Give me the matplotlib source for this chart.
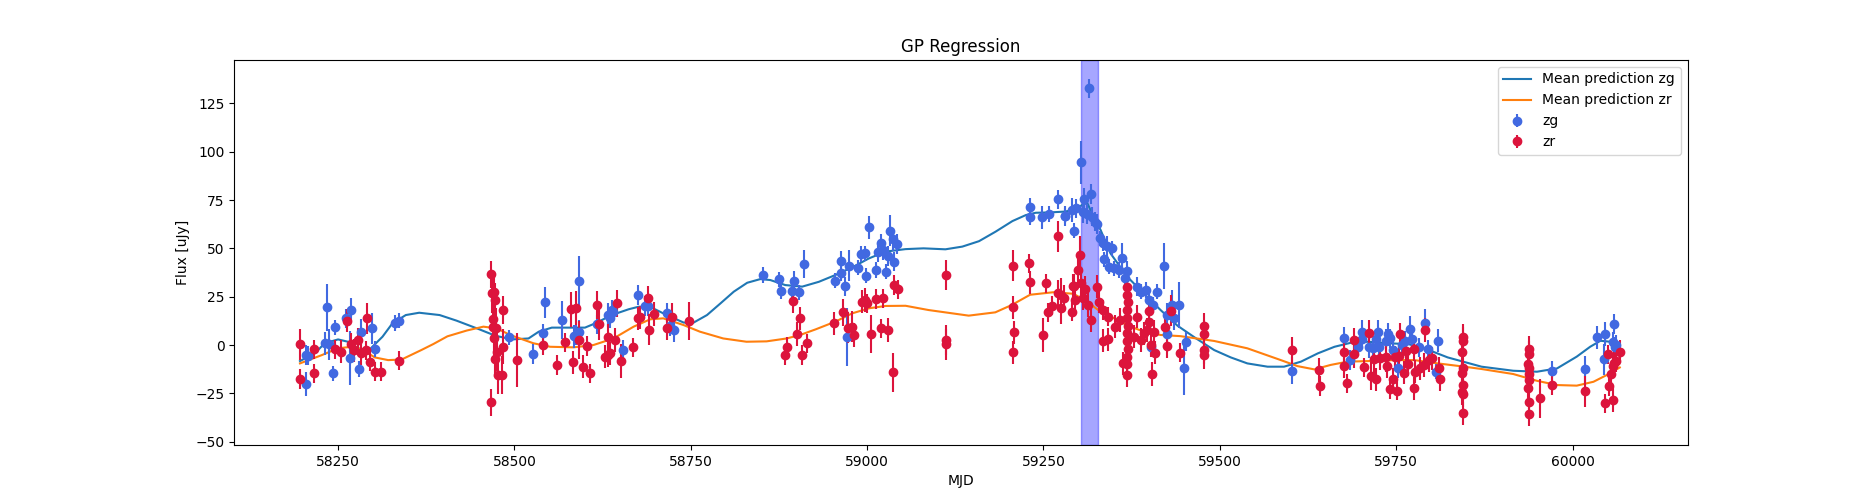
import matplotlib
matplotlib.use("Agg")
import matplotlib.pyplot as plt
import numpy as np

# zg photometry: MJD, flux, error
zg_mjd = [58204, 58207, 58204, 58234, 58232, 58237, 58246, 58243, 58261, 58269, 58267, 58282, 58280,
          58298, 58303, 58331, 58336,
          58493, 58527, 58540, 58544, 58568, 58591, 58584, 58588, 58592, 58617, 58633, 58636, 58640,
          58638, 58654, 58675, 58685, 58690, 58716, 58720, 58726,
          58853, 58874.6, 58878, 58897, 58893.5, 58903, 58911, 58954, 58963, 58963, 58969, 58972, 58974,
          58987, 58992, 58997, 59002, 58999, 59012, 59016, 59019, 59023, 59027, 59030, 59033, 59036,
          59042, 59038,
          59231.6, 59231, 59248.6, 59258, 59271, 59281, 59291, 59292.7, 59295.7, 59280,
          59314.3, 59302.6, 59316.7, 59308, 59306.5, 59312, 59319, 59323, 59325.5, 59330, 59334.8,
          59340.5, 59347.6, 59335.7, 59342.8, 59350, 59357, 59361.7, 59367.9, 59365, 59382, 59387.7,
          59395.8, 59399.6, 59411.4, 59420.8, 59405.7, 59425.6, 59432.7, 59442, 59435, 59425.6, 59402,
          59451.5, 59449,
          59602, 59676, 59685, 59696, 59702, 59701, 59712, 59717, 59721.5, 59724, 59726, 59735.5, 59738,
          59741, 59745, 59752, 59758, 59763, 59769, 59772.5, 59783, 59795, 59791, 59806, 59810,
          59971.6, 60018, 60034, 60046.5, 60045, 60059, 60057, 60060, 60062]
zg_flux = [-5.2, -5.5, -20.2, 19.5, 0.9, 0.5, 9.2, -14.7, 13.8, 18.1, -6.9, 6.7, -12.4,
           8.6, -2.0, 11.5, 12.6,
           4.0, -4.7, 6.0, 22.1, 12.9, 33.1, 4.6, 5.2, 6.9, 10.7, 15.5, 13.8, 17.2,
           18.1, -2.6, 25.9, 20.2, 20.2, 16.7, 9.8, 7.8,
           36.2, 34.0, 27.9, 33.1, 27.9, 27.2, 41.9, 33.3, 43.4, 37.1, 30.3, 4.3, 41.0,
           40.0, 47.0, 47.4, 60.9, 35.9, 38.8, 47.9, 52.6, 49.1, 37.9, 46.0, 59.1, 54.7,
           52.2, 43.1,
           71.2, 66.0, 66.0, 67.8, 75.3, 66.7, 69.8, 59.1, 70.7, 66.9,
           132.8, 94.5, 78.1, 75.3, 69.0, 67.8, 66.4, 63.8, 62.6, 55.2, 52.6,
           51.2, 50.0, 44.3, 40.5, 39.6, 38.8, 44.8, 38.3, 34.5, 30.2, 27.6,
           28.5, 23.3, 27.6, 40.9, 20.7, 15.5, 20.7, 20.7, 13.8, 5.5, -0.9,
           1.7, -12.1,
           -13.4, 3.4, -7.8, -0.9, 6.9, 2.9, -0.9, -1.7, 2.9, 6.9, -0.9, 2.1, 5.5,
           3.4, -2.6, -12.1, 0.0, 2.2, 8.1, 2.9, -1.2, -2.2, 11.5, -13.8, 2.2,
           -13.3, -12.6, 4.0, 5.7, -7.4, 10.9, 1.7, -0.9, 0.0]
zg_err = [5, 5, 6, 12, 6, 8, 4, 4, 5, 6, 14, 7, 4,
          8, 4, 4, 4,
          4, 5, 5, 8, 10, 13, 6, 5, 6, 5, 6, 5, 5,
          5, 5, 5, 5, 5, 5, 5, 6,
          4, 4, 4, 5, 4, 4, 7, 4, 5, 4, 5, 15, 8,
          4, 4, 4, 6, 4, 4, 5, 5, 5, 4, 5, 8, 6,
          5, 5,
          5, 4, 6, 4, 5, 5, 6, 4, 5, 4,
          5, 11, 5, 6, 6, 5, 5, 5, 5, 4, 4,
          5, 4, 4, 4, 4, 4, 8, 5, 4, 5, 4,
          4, 4, 4, 12, 4, 6, 8, 12, 6, 6, 4,
          5, 14,
          7, 6, 5, 5, 6, 5, 6, 5, 5, 6, 6, 6, 6,
          5, 5, 5, 6, 5, 7, 5, 5, 5, 7, 4, 6,
          5, 7, 6, 6, 8, 5, 5, 5, 5]

# zr photometry: MJD, flux, error
zr_mjd = [58196, 58196, 58216, 58216, 58245.5, 58254, 58262, 58269, 58272, 58278, 58282, 58289, 58291,
          58294.7, 58303, 58311, 58336,
          58467, 58468, 58471, 58472, 58469, 58470, 58471, 58474, 58484, 58484, 58476, 58472, 58477,
          58482, 58467, 58504, 58541, 58560, 58572, 58580, 58587, 58583, 58591, 58597, 58603, 58607,
          58617, 58620, 58628, 58632, 58636, 58633, 58643, 58645, 58651, 58668, 58675, 58678, 58689,
          58691, 58698, 58716, 58723, 58748,
          58883, 58886, 58895.6, 58900, 58905, 58908, 58915, 58953, 58966, 58973, 58979, 58982, 58993,
          58997, 59000, 59006, 59012, 59023, 59019, 59029, 59036, 59038, 59044,
          59112.4, 59112, 59112, 59206.5, 59206.5, 59208, 59206.5, 59229, 59231.6, 59249, 59254, 59256,
          59262, 59271, 59271, 59275, 59279, 59275, 59291, 59293,
          59301.7, 59298.9, 59292, 59302.6, 59309, 59294.7, 59306.5, 59313.6, 59317.5, 59325.5, 59329.3,
          59335, 59342, 59335, 59342, 59351.8, 59358,
          59369, 59369, 59370, 59368, 59369, 59370, 59368, 59369, 59370, 59369, 59368, 59369,
          59363, 59383, 59379, 59388, 59392, 59397, 59399, 59399, 59406, 59402, 59408.8, 59404, 59422,
          59425, 59431, 59444,
          59477.8, 59477.8, 59477.8, 59477.8,
          59603, 59640, 59642, 59676, 59676, 59681, 59689.6, 59690.5, 59703.7, 59712, 59714, 59722, 59719,
          59727, 59735, 59737, 59741, 59750.6, 59745, 59749, 59754, 59755, 59761, 59764.6, 59775, 59767,
          59775, 59777, 59784, 59789.6, 59796.7, 59801.4, 59791, 59810.8, 59812,
          59844.6, 59845, 59844, 59845, 59844, 59845, 59844, 59845, 59844.6,
          59937.7, 59938, 59937, 59938, 59937.7, 59938, 59937, 59938, 59937.7, 59954, 59971.6, 60018,
          60046, 60051, 60052, 60055, 60057, 60059, 60061, 60058, 60067]
zr_flux = [0.3, -17.6, -2.2, -14.7, -2.2, -3.4, 12.6, 0.3, -2.7, 2.6, -4.3, -2.7, 13.8,
           -8.6, -13.8, -13.8, -8.1,
           36.6, 26.7, 27.5, 23.3, 13.3, 9.5, 3.4, 8.9, 18.1, -0.9, -3.4, -7.4, -15.5,
           -15.5, -29.6, -7.8, 0.0, -10.3, 1.4, 18.5, 19.1, -9.0, 2.6, -11.2, -0.5, -14.7,
           20.7, 10.7, -6.0, -5.2, -4.3, 4.0, 2.6, 21.6, -8.3, -1.2, 13.8, 14.3, 24.5,
           7.8, 16.0, 8.6, 14.6, 12.4,
           -5.2, -0.9, 22.8, 5.7, 13.8, -5.2, 0.9, 11.2, 16.9, 9.0, 9.5, 5.2, 22.4,
           23.3, 21.6, 5.7, 23.8, 24.1, 8.6, 7.8, -14.1, 31.0, 28.8,
           36.2, 2.6, 0.5, 40.9, 19.5, 6.6, -3.8, 42.2, 32.4, 5.2, 31.9, 16.9,
           20.3, 56.2, 26.7, 25.9, 24.1, 19.0, 17.2, 30.7,
           46.5, 38.8, 30.5, 31.9, 28.8, 23.3, 24.1, 20.7, 12.9, 30.2, 22.4,
           18.1, 14.7, 2.2, 2.9, 9.5, 12.9,
           30.2, 26.0, 22.0, 18.0, 14.0, 10.0, 6.0, 2.0, -2.0, -6.0, -10.0, -15.5,
           -9.5, 14.7, 4.3, 2.6, 6.0, 7.8, 17.7, 12.1, 6.9, 0.0, -4.0, -15.0, 9.5,
           -0.5, 17.7, -4.0,
           9.8, 5.7, -2.6, -5.2,
           -2.6, -12.9, -21.2, -3.8, -10.9, -19.8, 2.6, -4.7, -11.6, 6.0, -16.0, -17.8, -7.4,
           -6.9, -6.0, -10.9, -22.9, -23.6, -17.8, -6.4, -5.7, 5.5, -14.3, -3.1, -2.2, -9.8,
           -22.4, -13.8, -12.1, -10.3, -7.8, -6.9, 7.8, -12.1, -17.8,
           4.0, 2.2, -3.4, -12.1, -14.7, -20.7, -24.1, -25.3, -35.3,
           -2.1, -4.7, -9.8, -12.1, -15.2, -18.1, -22.4, -29.3, -35.8, -27.6, -20.7, -23.8,
           -30.2, -4.8, -21.2, -15.0, -11.0, -9.3, -8.1, -28.4, -3.4]
zr_err = [8, 5, 5, 5, 5, 6, 6, 6, 6, 6, 6, 5, 8,
          5, 5, 5, 5,
          7, 10, 8, 9, 9, 8, 9, 10, 7, 9, 10, 9, 10,
          10, 7, 14, 5, 5, 5, 9, 9, 6, 10, 6, 5, 5,
          7, 8, 6, 6, 6, 7, 6, 7, 9, 5, 6, 6, 6,
          8, 6, 6, 7, 10,
          5, 5, 6, 6, 6, 5, 5, 6, 7, 8, 8, 6, 6,
          6, 5, 10, 5, 5, 5, 6, 10, 5, 5,
          8, 8, 8, 8, 6, 6, 6, 5, 6, 9, 5, 5,
          5, 8, 7, 9, 7, 8, 5, 6,
          10, 8, 6, 6, 7, 7, 6, 6, 6, 6, 6,
          5, 5, 6, 6, 6, 6,
          8, 8, 8, 8, 8, 8, 8, 8, 8, 8, 8, 6,
          6, 6, 6, 6, 6, 6, 6, 6, 6, 6, 6, 6, 6,
          6, 8, 5,
          7, 7, 7, 7,
          7, 6, 5, 6, 6, 5, 6, 7, 5, 7, 7, 6, 7,
          6, 8, 6, 5, 5, 6, 6, 6, 6, 6, 6, 6, 6,
          6, 6, 6, 6, 6, 6, 6, 6, 6,
          7, 7, 7, 7, 7, 7, 7, 7, 6,
          7, 7, 7, 7, 7, 7, 7, 7, 6, 10, 5, 8,
          5, 5, 5, 6, 6, 6, 6, 6, 6]

# GP mean predictions
pred_mjd_zg = [58196, 58217, 58231, 58250, 58264, 58278, 58294, 58313, 58327, 58346, 58365, 58394,
               58418, 58449, 58473, 58497, 58520, 58534.5, 58553, 58577, 58600, 58614.5, 58638,
               58662, 58676, 58692, 58716, 58740, 58754, 58773, 58792, 58811, 58830, 58848.6,
               58862.8, 58884, 58908, 58931.6, 58955, 58979, 59002.6, 59026, 59054.5, 59080, 59111,
               59135, 59158.6, 59182, 59206, 59225, 59239, 59260, 59280, 59295, 59305, 59312, 59321,
               59331, 59345, 59368.6, 59392, 59416, 59440, 59466, 59492, 59515.5, 59539, 59567.7,
               59591, 59615, 59639, 59662.6, 59686, 59710, 59738, 59766.8, 59790, 59823, 59871,
               59916, 59949.6, 59978, 60006, 60025, 60039.6, 60053.8, 60067]
pred_zg = [-8.3, -4.3, 0.9, 2.9, 1.7, -1.7, -2.6, 4.3, 11.2, 15.5, 16.7, 15.5,
           12.6, 8.3, 4.8, 2.9, 3.4, 6.9, 9.0, 9.0, 9.0, 11.2, 15.5,
           18.5, 19.8, 19.8, 15.5, 11.6, 11.6, 15.5, 21.5, 27.6, 32.2, 34.1,
           33.6, 31.0, 30.2, 32.7, 36.2, 40.2, 44.8, 48.3, 49.6, 50.0, 49.5,
           50.9, 53.7, 58.6, 64.1, 67.2, 68.4, 68.6, 69.0, 70.0, 72.5, 73.5, 66.4,
           59.5, 47.4, 35.4, 26.7, 18.1, 10.0, 3.5, -2.6, -6.4, -9.5, -11.2,
           -11.2, -8.6, -4.3, -0.9, 1.2, 1.7, 0.9, 0.5, -1.7, -6.4, -11.2,
           -13.3, -13.8, -12.1, -6.0, -0.9, 2.2, 1.7, -0.5]

pred_mjd_zr = [58196, 58227, 58250, 58269, 58283, 58302, 58321, 58340, 58368, 58385, 58405, 58432.5,
               58456, 58475, 58494, 58527, 58550.7, 58584, 58612, 58640.5, 58669, 58692.5, 58711,
               58740, 58763, 58796, 58829, 58857.5, 58886, 58905, 58927, 58955, 58979, 59002.6,
               59026, 59054.5, 59087, 59144, 59181.7, 59205, 59231, 59264, 59292.6, 59312, 59331,
               59350, 59368.6, 59392, 59416, 59444, 59492, 59539, 59586.5, 59610, 59634, 59657,
               59681, 59710, 59747.6, 59776, 59809, 59846.7, 59871, 59916, 59949.6, 59978, 60006,
               60029.7, 60048.6, 60067]
pred_zr = [-9.5, -5.2, -1.7, -0.9, -2.1, -6.4, -7.8, -7.5, -2.6, 0.5, 4.5, 7.5,
           9.5, 8.6, 5.2, 0.9, -0.9, -1.2, 0.0, 3.4, 9.5, 13.3, 13.8,
           10.3, 6.9, 3.4, 1.7, 1.9, 3.4, 5.2, 8.1, 12.1, 16.4, 19.0,
           20.2, 20.3, 18.1, 15.2, 16.9, 20.7, 26.0, 27.3, 26.5, 22.4, 17.2,
           13.8, 10.3, 6.9, 5.2, 4.6, 2.1, -1.7, -7.8, -10.9, -12.6, -10.3,
           -8.6, -8.3, -7.8, -7.8, -9.5, -11.2, -12.4, -15.0, -18.5, -20.7, -21.0,
           -19.0, -15.5, -11.6]

flare_start, flare_end = 59303, 59327

fig, ax = plt.subplots(figsize=(18.75, 5), dpi=100)
ax.plot(pred_mjd_zg, pred_zg, label="Mean prediction zg")
ax.plot(pred_mjd_zr, pred_zr, label="Mean prediction zr")
ax.axvspan(flare_start, flare_end, color="blue", alpha=0.35)
ax.errorbar(zg_mjd, zg_flux, yerr=zg_err, fmt="o", color="royalblue", label="zg")
ax.errorbar(zr_mjd, zr_flux, yerr=zr_err, fmt="o", color="crimson", label="zr")
ax.set_xlim(58103, 60163)
ax.set_ylim(-51.7, 147.4)
ax.set_title("GP Regression")
ax.set_xlabel("MJD")
ax.set_ylabel("Flux [uJy]")
ax.legend(loc="upper right")
fig.savefig("out.png")
